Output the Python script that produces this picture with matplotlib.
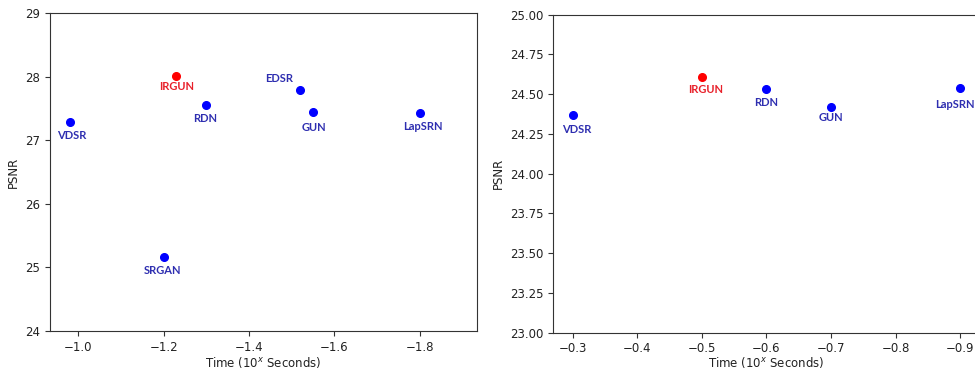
import matplotlib
matplotlib.use("Agg")
import matplotlib.pyplot as plt

# Left panel data
left_names = ["VDSR", "IRGUN", "RDN", "EDSR", "GUN", "LapSRN", "SRGAN"]
left_time = [-0.98, -1.23, -1.30, -1.52, -1.55, -1.80, -1.20]
left_psnr = [27.29, 28.02, 27.55, 27.80, 27.44, 27.43, 25.16]

# Right panel data
right_names = ["VDSR", "IRGUN", "RDN", "GUN", "LapSRN"]
right_time = [-0.3, -0.5, -0.6, -0.7, -0.9]
right_psnr = [24.37, 24.61, 24.53, 24.42, 24.54]

highlight = "IRGUN"

# label offsets in pixels (dx, dy)
left_offsets = {"VDSR": (2, -14), "IRGUN": (0, -11), "RDN": (-1, -13),
                "EDSR": (-21, 11), "GUN": (1, -15), "LapSRN": (3, -13),
                "SRGAN": (-1, -13)}
right_offsets = {"VDSR": (4, -15), "IRGUN": (4, -13), "RDN": (0, -13),
                 "GUN": (0, -11), "LapSRN": (-5, -17)}

W, H = 975, 372
fig = plt.figure(figsize=(W / 100, H / 100), dpi=100)

ax1 = fig.add_axes([50 / W, 1 - 331 / H, 427 / W, (331 - 13.3) / H])
ax2 = fig.add_axes([553.3 / W, 1 - 332.7 / H, (979.7 - 553.3) / W, (332.7 - 14.7) / H])

label_font = dict(family=["Lato", "DejaVu Sans"], weight="bold", size=8)
fs = 8.5
txt_color = "#222222"


def draw(ax, names, xs, ys, offsets, pad):
    for n, x, y in zip(names, xs, ys):
        c = "red" if n == highlight else "blue"
        tc = "#e8202a" if n == highlight else "#2e2eb0"
        ax.plot([x], [y], "o", color=c, markersize=5.5)
        dx, dy = offsets[n]
        ax.annotate(n, (x, y), xytext=(dx, dy), textcoords="offset pixels",
                    ha="center", va="center", color=tc, **label_font)
    ax.set_xlabel("Time (10$^x$ Seconds)", fontsize=fs, labelpad=pad, color=txt_color)
    ax.set_ylabel("PSNR", fontsize=fs, color=txt_color)
    ax.tick_params(labelsize=fs, labelcolor=txt_color, color="#333333")
    for s in ax.spines.values():
        s.set_color("#333333")


draw(ax1, left_names, left_time, left_psnr, left_offsets, 1)
ax1.set_xlim(-0.934, -1.934)
ax1.set_ylim(24, 29)
ax1.set_xticks([-1.0, -1.2, -1.4, -1.6, -1.8])
ax1.set_yticks([24, 25, 26, 27, 28, 29])

draw(ax2, right_names, right_time, right_psnr, right_offsets, 0)
ax2.set_xlim(-0.27, -0.93)
ax2.set_ylim(23, 25)
ax2.set_xticks([-0.3, -0.4, -0.5, -0.6, -0.7, -0.8, -0.9])
ax2.set_yticks([23.0, 23.25, 23.5, 23.75, 24.0, 24.25, 24.5, 24.75, 25.0])
ax2.yaxis.set_major_formatter(matplotlib.ticker.FormatStrFormatter("%.2f"))

fig.savefig("out.png", dpi=100)
